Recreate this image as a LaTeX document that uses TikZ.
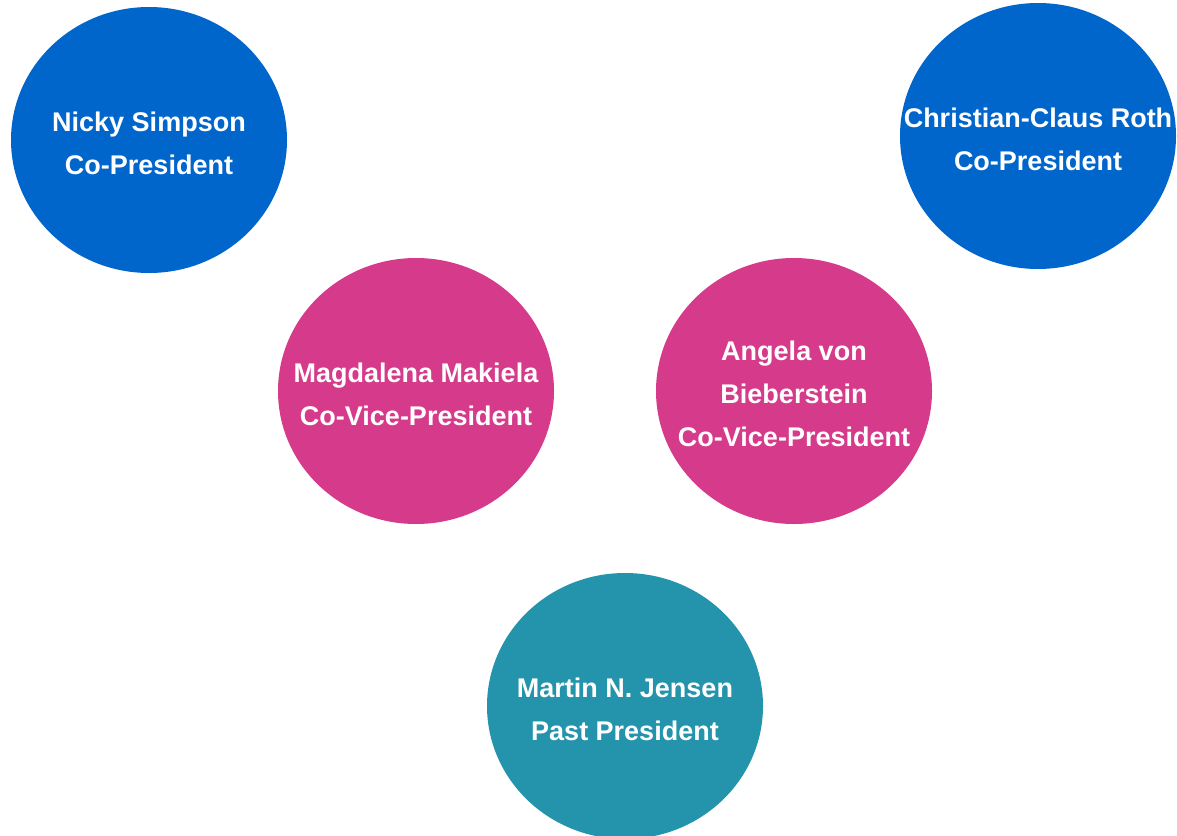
\documentclass[tikz,border=0pt]{standalone}
\usepackage{fontspec}
\setmainfont{Liberation Sans}
\usetikzlibrary{shapes.geometric}
\definecolor{presblue}{RGB}{0,102,204}
\definecolor{vicepink}{RGB}{214,58,138}
\definecolor{pastteal}{RGB}{36,148,173}
\tikzset{
  member/.style={ellipse, fill=#1, draw=none, inner sep=0pt,
    minimum width=276pt, minimum height=266pt},
  membername/.style={text=white, align=center, inner sep=0pt, yshift=-3pt,
    font=\fontsize{27pt}{43pt}\selectfont\bfseries}
}
\begin{document}
\begin{tikzpicture}[x=1pt,y=-1pt]
\useasboundingbox (0,0) rectangle (1177,835);

\node[member=presblue, label={[membername]center:{Nicky Simpson\\Co-President}}] (simpson) at (149,140) {};
\node[member=presblue, label={[membername]center:{Christian-Claus Roth\\Co-President}}] (roth) at (1038,136) {};

\node[member=vicepink, label={[membername]center:{Magdalena Makiela\\Co-Vice-President}}] (makiela) at (416,391) {};
\node[member=vicepink, label={[membername]center:{Angela von\\Bieberstein\\Co-Vice-President}}] (bieberstein) at (794,391) {};

\node[member=pastteal, label={[membername]center:{Martin N. Jensen\\Past President}}] (jensen) at (625,706) {};

\end{tikzpicture}
\end{document}
